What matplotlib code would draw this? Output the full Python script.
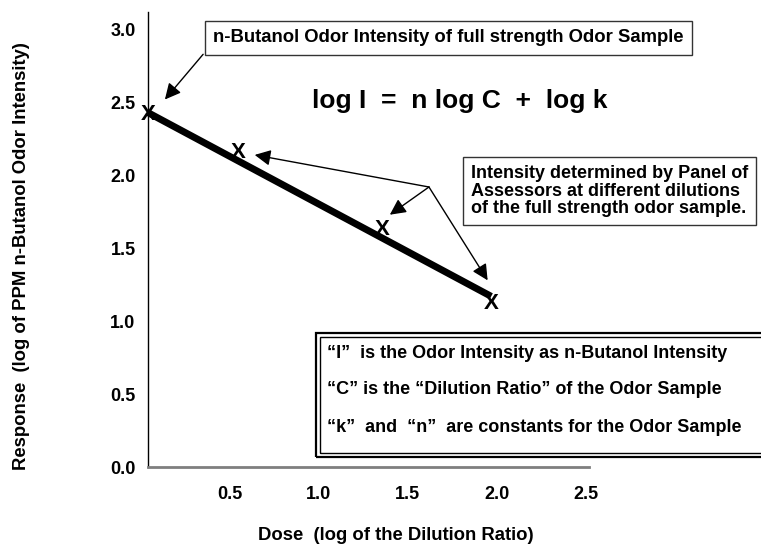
import matplotlib
matplotlib.use("Agg")
import matplotlib.pyplot as plt
from matplotlib.patches import Rectangle

plt.rcParams['font.family'] = ['Liberation Sans', 'DejaVu Sans']
plt.rcParams['font.weight'] = 'bold'

# data
dose = [0.04, 0.55, 1.36, 1.97]            # log of dilution ratio
response = [2.42, 2.16, 1.63, 1.12]        # log of PPM n-butanol intensity
fit_dose = [0.04, 1.97]
fit_response = [2.43, 1.17]
xticks = [0.5, 1.0, 1.5, 2.0, 2.5]
yticks = [0.0, 0.5, 1.0, 1.5, 2.0, 2.5, 3.0]

W, H = 761, 550
fig = plt.figure(figsize=(W / 100, H / 100), dpi=100)


def px(x, y):
    # pixel position (from top-left) -> figure fraction
    return x / W, 1 - y / H


ax = fig.add_axes([148 / W, 1 - 467 / H, (589 - 148) / W, (467 - 12) / H])
ax.set_xlim(0.04, 2.52)
ax.set_ylim(0, 3.12)
ax.spines['top'].set_visible(False)
ax.spines['right'].set_visible(False)
ax.spines['left'].set_linewidth(1.0)
ax.spines['bottom'].set_color('#7f7f7f')
ax.spines['bottom'].set_linewidth(2.0)
ax.set_xticks(xticks)
ax.set_xticklabels([f'{v:.1f}' for v in xticks])
ax.set_yticks(yticks)
ax.set_yticklabels([f'{v:.1f}' for v in yticks])
ax.tick_params(axis='both', length=0, labelsize=13)
ax.tick_params(axis='x', pad=14)
ax.tick_params(axis='y', pad=9)

# fitted line
ax.plot(fit_dose, fit_response, color='black', lw=5, solid_capstyle='butt', clip_on=False)
# measured points drawn as X letters
for d, r in zip(dose, response):
    ax.text(d, r, 'X', ha='center', va='center', fontsize=16, clip_on=False)

# axis labels
fig.text(*px(396, 535), 'Dose  (log of the Dilution Ratio)', ha='center', va='center', fontsize=13.3)
fig.text(*px(22, 256), 'Response  (log of PPM n-Butanol Odor Intensity)', ha='center', va='center',
         rotation=90, fontsize=13.3)

# equation
fig.text(*px(460, 101), 'log I  =  n log C  +  log k', ha='center', va='center', fontsize=19)

# top box
fig.text(*px(213, 38), 'n-Butanol Odor Intensity of full strength Odor Sample', ha='left', va='center',
         fontsize=13.3, bbox=dict(boxstyle='square,pad=0.45', fc='white', ec='#333333', lw=1))

# right box
fig.text(*px(471, 191), 'Intensity determined by Panel of\nAssessors at different dilutions\nof the full strength odor sample.',
         ha='left', va='center', fontsize=13, linespacing=1.05,
         bbox=dict(boxstyle='square,pad=0.45', fc='white', ec='#333333', lw=1))

# bottom box with double border
for (x0, y0, x1, y1, lw) in [(316, 333, 775, 457, 1.6), (320, 337, 771, 453, 1.0)]:
    fx0, fy1 = px(x0, y0)
    fx1, fy0 = px(x1, y1)
    fig.add_artist(Rectangle((fx0, fy0), fx1 - fx0, fy1 - fy0, transform=fig.transFigure,
                             fill=False, ec='black', lw=lw))
notes = ['\u201cI\u201d  is the Odor Intensity as n-Butanol Intensity',
         '\u201cC\u201d is the \u201cDilution Ratio\u201d of the Odor Sample',
         '\u201ck\u201d  and  \u201cn\u201d  are constants for the Odor Sample']
for note, yy in zip(notes, [353, 389, 428]):
    fig.text(*px(327, yy), note, ha='left', va='center', fontsize=13)

# arrows
ax.annotate('', xy=(0.135, 2.52), xytext=(0.35, 2.83),
            arrowprops=dict(arrowstyle='-|>', color='black', lw=1, mutation_scale=24,
                            shrinkA=0, shrinkB=0))
vertex = (1.62, 1.92)
for head in [(0.64, 2.14), (1.40, 1.73), (1.95, 1.28)]:
    ax.annotate('', xy=head, xytext=vertex,
                arrowprops=dict(arrowstyle='-|>', color='black', lw=1, mutation_scale=24,
                                shrinkA=0, shrinkB=0))

fig.savefig('out.png', dpi=100)
